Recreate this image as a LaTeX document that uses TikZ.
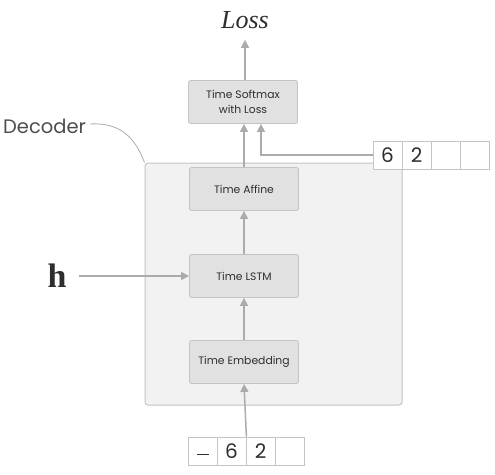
\documentclass[tikz,border=0pt]{standalone}
\usepackage{fontspec}
\setmainfont{Poppins}
\newfontfamily\serifit{Liberation Serif}
\usetikzlibrary{arrows.meta}
\definecolor{linegray}{HTML}{ABABAB}
\definecolor{boxfill}{HTML}{E1E1E1}
\definecolor{boxline}{HTML}{C4C4C4}
\definecolor{decfill}{HTML}{F2F2F2}
\definecolor{txt}{HTML}{2E2E2E}
\tikzset{
  layer/.style={draw=boxline, fill=boxfill, rounded corners=2pt, minimum width=109pt, minimum height=43pt, inner sep=0pt, text=txt, font=\fontsize{10.8}{15}\selectfont, align=center, line width=0.8pt},
  cell/.style={draw=boxline, fill=white, minimum width=29pt, minimum height=28pt, inner sep=0pt, text=txt, font=\fontsize{20}{20}\selectfont, line width=0.8pt},
  arr/.style={draw=linegray, line width=1.5pt, -{Triangle[length=8pt,width=8pt]}},
}
\begin{document}
\begin{tikzpicture}[x=1pt,y=-1pt]
\useasboundingbox (0,0) rectangle (495,474);
% decoder box
\node[draw=boxline, fill=decfill, rounded corners=3pt, line width=1pt, minimum width=257pt, minimum height=242pt, inner sep=0pt] (dec) at (273.5,284) {};
\node[text=txt!85, font=\fontsize{19.5}{19.5}\selectfont, anchor=west, inner sep=0pt] (declab) at (3,126) {Decoder};
\draw[linegray, line width=0.8pt] (declab.east) ++(4,-2) coordinate (dl) .. controls (122,122) and (136,140) .. (dec.north west);
% layers
\node[layer] (soft) at (243,102) {Time Softmax\\with Loss};
\node[layer] (aff) at (244,189) {Time Affine};
\node[layer] (lstm) at (244,276) {Time LSTM};
\node[layer] (emb) at (244,362) {Time Embedding};
% loss
\node[text=txt, font=\serifit\itshape\fontsize{26}{26}\selectfont, inner sep=0pt] (loss) at (245,20) {Loss};
% h
\node[text=txt, font=\serifit\bfseries\fontsize{34}{34}\selectfont, inner sep=0pt] (h) at (57,276) {h};
% cells right
\node[cell] (r1) at (387.5,155) {6};
\node[cell] (r2) at (416.5,155) {2};
\node[cell] (r3) at (445.5,155) {};
\node[cell] (r4) at (474.5,155) {};
% cells bottom
\node[cell] (b1) at (202.5,451) {\raisebox{-8pt}{\rule{12pt}{1.5pt}}};
\node[cell] (b2) at (231.5,451) {6};
\node[cell] (b3) at (260.5,451) {2};
\node[cell] (b4) at (289.5,451) {};
% arrows
\draw[arr] (soft.north -| loss.south) -- ([yshift=-11pt]loss.south);
\draw[arr] (aff.north) -- (aff.north |- soft.south);
\draw[arr] (r1.west) -| ([xshift=18pt]soft.south);
\draw[arr] (lstm.north) -- (aff.south);
\draw[arr] (emb.north) -- (lstm.south);
\draw[arr] (b2.north east) -- (emb.south);
\draw[arr] ([xshift=12pt]h.east |- lstm.west) -- (lstm.west);
\end{tikzpicture}
\end{document}
